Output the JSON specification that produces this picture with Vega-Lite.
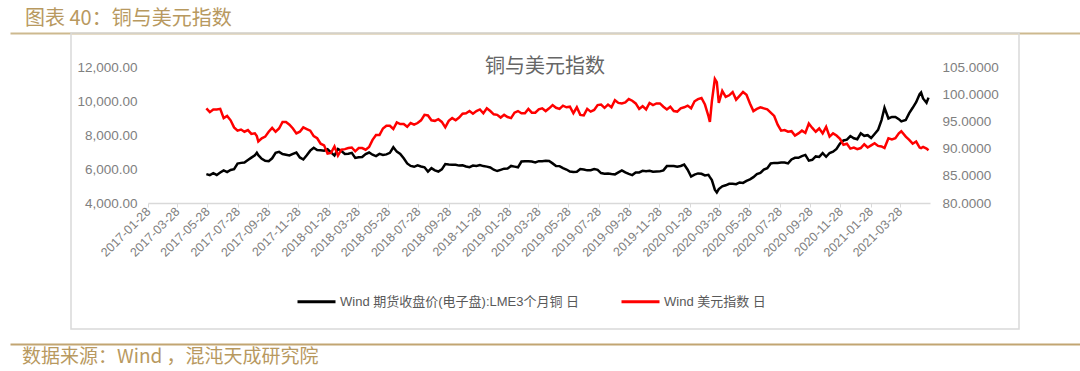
{
  "$schema": "https://vega.github.io/schema/vega-lite/v6.json",
  "background": "white",
  "padding": {"left": 10, "top": 0, "right": 0, "bottom": 0},
  "config": {"view": {"stroke": null}, "font": "Liberation Sans, Noto Sans CJK SC"},
  "datasets": {
    "series": [
      {"date":"2017-05-26","cu":5700,"usd":97.4},{"date":"2017-06-02","cu":5640,"usd":96.7},{"date":"2017-06-09","cu":5750,"usd":97.2},{"date":"2017-06-16","cu":5650,"usd":97.2},{"date":"2017-06-23","cu":5790,"usd":97.3},{"date":"2017-06-30","cu":5920,"usd":95.6},{"date":"2017-07-07","cu":5820,"usd":96.0},{"date":"2017-07-14","cu":5940,"usd":95.2},{"date":"2017-07-21","cu":5990,"usd":93.9},{"date":"2017-07-28","cu":6320,"usd":93.3},{"date":"2017-08-04","cu":6360,"usd":93.5},{"date":"2017-08-11","cu":6380,"usd":93.1},{"date":"2017-08-18","cu":6530,"usd":93.4},{"date":"2017-08-25","cu":6670,"usd":92.7},{"date":"2017-09-01","cu":6800,"usd":92.8},{"date":"2017-09-05","cu":6960,"usd":92.3},{"date":"2017-09-08","cu":6810,"usd":91.3},{"date":"2017-09-15","cu":6600,"usd":91.9},{"date":"2017-09-22","cu":6480,"usd":92.2},{"date":"2017-09-29","cu":6460,"usd":93.1},{"date":"2017-10-06","cu":6630,"usd":93.8},{"date":"2017-10-13","cu":6950,"usd":93.1},{"date":"2017-10-20","cu":7010,"usd":93.7},{"date":"2017-10-27","cu":6880,"usd":94.9},{"date":"2017-11-03","cu":6840,"usd":94.9},{"date":"2017-11-10","cu":6800,"usd":94.4},{"date":"2017-11-17","cu":6890,"usd":93.7},{"date":"2017-11-24","cu":6970,"usd":92.8},{"date":"2017-12-01","cu":6680,"usd":93.1},{"date":"2017-12-08","cu":6560,"usd":93.9},{"date":"2017-12-15","cu":6810,"usd":93.6},{"date":"2017-12-22","cu":7080,"usd":93.3},{"date":"2017-12-29","cu":7250,"usd":92.3},
      {"date":"2018-01-05","cu":7110,"usd":91.9},{"date":"2018-01-12","cu":7100,"usd":90.9},{"date":"2018-01-19","cu":7080,"usd":90.6},{"date":"2018-01-26","cu":7160,"usd":89.1},{"date":"2018-02-02","cu":6980,"usd":89.2},{"date":"2018-02-09","cu":6790,"usd":90.4},{"date":"2018-02-16","cu":7180,"usd":88.7},{"date":"2018-02-23","cu":7060,"usd":89.8},{"date":"2018-03-02","cu":6880,"usd":89.9},{"date":"2018-03-09","cu":6900,"usd":90.1},{"date":"2018-03-16","cu":6950,"usd":90.2},{"date":"2018-03-23","cu":6650,"usd":89.5},{"date":"2018-03-30","cu":6690,"usd":90.1},{"date":"2018-04-06","cu":6710,"usd":90.1},{"date":"2018-04-13","cu":6880,"usd":89.8},{"date":"2018-04-20","cu":6970,"usd":90.3},{"date":"2018-04-27","cu":6840,"usd":91.6},{"date":"2018-05-04","cu":6760,"usd":92.5},{"date":"2018-05-11","cu":6890,"usd":92.5},{"date":"2018-05-18","cu":6830,"usd":93.7},{"date":"2018-05-25","cu":6860,"usd":94.2},{"date":"2018-06-01","cu":6950,"usd":94.2},{"date":"2018-06-08","cu":7280,"usd":93.6},{"date":"2018-06-15","cu":7020,"usd":94.8},{"date":"2018-06-22","cu":6890,"usd":94.5},{"date":"2018-06-29","cu":6630,"usd":94.5},{"date":"2018-07-06","cu":6330,"usd":94.0},{"date":"2018-07-13","cu":6180,"usd":94.7},{"date":"2018-07-20","cu":6130,"usd":94.4},{"date":"2018-07-27","cu":6220,"usd":94.7},{"date":"2018-08-03","cu":6150,"usd":95.2},{"date":"2018-08-10","cu":6100,"usd":96.2},{"date":"2018-08-17","cu":5850,"usd":96.1},{"date":"2018-08-24","cu":6050,"usd":95.2},{"date":"2018-08-31","cu":5920,"usd":95.1},{"date":"2018-09-07","cu":5850,"usd":95.4},{"date":"2018-09-14","cu":5980,"usd":94.9},{"date":"2018-09-21","cu":6290,"usd":93.9},{"date":"2018-09-28","cu":6260,"usd":95.1},{"date":"2018-10-05","cu":6250,"usd":95.6},{"date":"2018-10-12","cu":6250,"usd":95.2},{"date":"2018-10-19","cu":6200,"usd":95.7},{"date":"2018-10-26","cu":6220,"usd":96.4},{"date":"2018-11-02","cu":6150,"usd":96.5},{"date":"2018-11-09","cu":6110,"usd":96.9},{"date":"2018-11-16","cu":6200,"usd":96.4},{"date":"2018-11-23","cu":6180,"usd":96.9},{"date":"2018-11-30","cu":6230,"usd":97.2},{"date":"2018-12-07","cu":6170,"usd":96.5},{"date":"2018-12-14","cu":6140,"usd":97.4},{"date":"2018-12-21","cu":6090,"usd":96.9},{"date":"2018-12-28","cu":5960,"usd":96.3},
      {"date":"2019-01-04","cu":5880,"usd":96.2},{"date":"2019-01-11","cu":5950,"usd":95.7},{"date":"2019-01-18","cu":6020,"usd":96.2},{"date":"2019-01-25","cu":6030,"usd":95.8},{"date":"2019-02-01","cu":6180,"usd":95.6},{"date":"2019-02-08","cu":6140,"usd":96.6},{"date":"2019-02-15","cu":6100,"usd":96.9},{"date":"2019-02-22","cu":6440,"usd":96.5},{"date":"2019-03-01","cu":6460,"usd":96.5},{"date":"2019-03-08","cu":6450,"usd":97.3},{"date":"2019-03-15","cu":6440,"usd":96.6},{"date":"2019-03-22","cu":6390,"usd":96.6},{"date":"2019-03-29","cu":6460,"usd":97.2},{"date":"2019-04-05","cu":6460,"usd":97.4},{"date":"2019-04-12","cu":6480,"usd":96.9},{"date":"2019-04-19","cu":6470,"usd":97.4},{"date":"2019-04-26","cu":6330,"usd":98.0},{"date":"2019-05-03","cu":6180,"usd":97.5},{"date":"2019-05-10","cu":6170,"usd":97.3},{"date":"2019-05-17","cu":6050,"usd":97.9},{"date":"2019-05-24","cu":5970,"usd":97.6},{"date":"2019-05-31","cu":5850,"usd":97.7},{"date":"2019-06-07","cu":5820,"usd":96.5},{"date":"2019-06-14","cu":5840,"usd":97.6},{"date":"2019-06-21","cu":6000,"usd":96.2},{"date":"2019-06-28","cu":5970,"usd":96.1},{"date":"2019-07-05","cu":5920,"usd":97.3},{"date":"2019-07-12","cu":5930,"usd":96.8},{"date":"2019-07-19","cu":6000,"usd":97.1},{"date":"2019-07-26","cu":5950,"usd":98.0},{"date":"2019-08-02","cu":5760,"usd":98.1},{"date":"2019-08-09","cu":5720,"usd":97.5},{"date":"2019-08-16","cu":5730,"usd":98.1},{"date":"2019-08-23","cu":5700,"usd":97.6},{"date":"2019-08-30","cu":5680,"usd":98.9},{"date":"2019-09-06","cu":5800,"usd":98.4},{"date":"2019-09-13","cu":5920,"usd":98.3},{"date":"2019-09-20","cu":5800,"usd":98.5},{"date":"2019-09-27","cu":5710,"usd":99.1},{"date":"2019-10-04","cu":5640,"usd":98.8},{"date":"2019-10-11","cu":5790,"usd":98.3},{"date":"2019-10-18","cu":5800,"usd":97.3},{"date":"2019-10-25","cu":5890,"usd":97.8},{"date":"2019-11-01","cu":5870,"usd":97.2},{"date":"2019-11-08","cu":5890,"usd":98.4},{"date":"2019-11-15","cu":5840,"usd":98.0},{"date":"2019-11-22","cu":5850,"usd":98.3},{"date":"2019-11-29","cu":5860,"usd":98.3},{"date":"2019-12-06","cu":5920,"usd":97.7},{"date":"2019-12-13","cu":6170,"usd":97.2},{"date":"2019-12-20","cu":6170,"usd":97.7},{"date":"2019-12-27","cu":6180,"usd":96.9},
      {"date":"2020-01-03","cu":6130,"usd":96.8},{"date":"2020-01-10","cu":6180,"usd":97.4},{"date":"2020-01-17","cu":6260,"usd":97.6},{"date":"2020-01-24","cu":5960,"usd":97.9},{"date":"2020-01-31","cu":5560,"usd":97.4},{"date":"2020-02-07","cu":5670,"usd":98.7},{"date":"2020-02-14","cu":5740,"usd":99.1},{"date":"2020-02-21","cu":5720,"usd":99.3},{"date":"2020-02-28","cu":5620,"usd":98.1},{"date":"2020-03-06","cu":5660,"usd":96.0},{"date":"2020-03-09","cu":5520,"usd":94.9},{"date":"2020-03-13","cu":5350,"usd":98.7},{"date":"2020-03-19","cu":4780,"usd":102.8},{"date":"2020-03-23","cu":4620,"usd":102.2},{"date":"2020-03-27","cu":4820,"usd":98.4},{"date":"2020-04-03","cu":4980,"usd":100.6},{"date":"2020-04-10","cu":5040,"usd":99.5},{"date":"2020-04-17","cu":5130,"usd":99.8},{"date":"2020-04-24","cu":5130,"usd":100.4},{"date":"2020-05-01","cu":5110,"usd":99.0},{"date":"2020-05-08","cu":5210,"usd":99.7},{"date":"2020-05-15","cu":5180,"usd":100.4},{"date":"2020-05-22","cu":5300,"usd":99.9},{"date":"2020-05-29","cu":5390,"usd":98.3},{"date":"2020-06-05","cu":5520,"usd":96.9},{"date":"2020-06-12","cu":5700,"usd":97.3},{"date":"2020-06-19","cu":5770,"usd":97.6},{"date":"2020-06-26","cu":5960,"usd":97.4},{"date":"2020-07-03","cu":6050,"usd":97.2},{"date":"2020-07-10","cu":6330,"usd":96.6},{"date":"2020-07-17","cu":6360,"usd":96.0},{"date":"2020-07-24","cu":6360,"usd":94.4},{"date":"2020-07-31","cu":6380,"usd":93.3},{"date":"2020-08-07","cu":6380,"usd":93.4},{"date":"2020-08-14","cu":6330,"usd":93.1},{"date":"2020-08-21","cu":6560,"usd":93.2},{"date":"2020-08-28","cu":6660,"usd":92.4},{"date":"2020-09-04","cu":6660,"usd":92.8},{"date":"2020-09-11","cu":6760,"usd":93.3},{"date":"2020-09-18","cu":6830,"usd":92.9},{"date":"2020-09-25","cu":6490,"usd":94.6},{"date":"2020-10-02","cu":6540,"usd":93.8},{"date":"2020-10-09","cu":6740,"usd":93.1},{"date":"2020-10-16","cu":6710,"usd":93.7},{"date":"2020-10-23","cu":6930,"usd":92.8},{"date":"2020-10-30","cu":6720,"usd":94.0},{"date":"2020-11-06","cu":6940,"usd":92.2},{"date":"2020-11-13","cu":7020,"usd":92.8},{"date":"2020-11-20","cu":7180,"usd":92.4},{"date":"2020-11-27","cu":7500,"usd":91.8},{"date":"2020-12-04","cu":7680,"usd":90.7},{"date":"2020-12-11","cu":7730,"usd":90.9},{"date":"2020-12-18","cu":7940,"usd":90.0},{"date":"2020-12-25","cu":7810,"usd":90.2},
      {"date":"2021-01-01","cu":7750,"usd":89.9},{"date":"2021-01-08","cu":8100,"usd":90.1},{"date":"2021-01-15","cu":7950,"usd":90.8},{"date":"2021-01-22","cu":7990,"usd":90.2},{"date":"2021-01-29","cu":7820,"usd":90.6},{"date":"2021-02-05","cu":8060,"usd":91.0},{"date":"2021-02-12","cu":8300,"usd":90.5},{"date":"2021-02-19","cu":8880,"usd":90.4},{"date":"2021-02-25","cu":9600,"usd":90.1},{"date":"2021-03-05","cu":8970,"usd":91.9},{"date":"2021-03-12","cu":9060,"usd":91.7},{"date":"2021-03-19","cu":9060,"usd":91.9},{"date":"2021-03-26","cu":8930,"usd":92.8},{"date":"2021-03-31","cu":8800,"usd":93.2},{"date":"2021-04-09","cu":8880,"usd":92.2},{"date":"2021-04-16","cu":9290,"usd":91.6},{"date":"2021-04-23","cu":9600,"usd":90.9},{"date":"2021-04-30","cu":9930,"usd":91.3},{"date":"2021-05-07","cu":10400,"usd":90.2},{"date":"2021-05-10","cu":10500,"usd":90.1},{"date":"2021-05-14","cu":10150,"usd":90.3},{"date":"2021-05-21","cu":9900,"usd":90.0},{"date":"2021-05-25","cu":10200,"usd":89.7}
    ]
  },
  "vconcat": [
    {
      "width": 1070,
      "height": 33,
      "data": {"values": [{"v": 0}, {"v": 1}]},
      "title": {"text": "图表 40：铜与美元指数", "orient": "top", "anchor": "start", "frame": "group", "offset": -45, "dx": 15, "baseline": "alphabetic", "font": "Noto Sans CJK SC", "fontSize": 20, "fontWeight": "normal", "color": "#B8995F"},
      "mark": {"type": "rule", "opacity": 0},
      "encoding": {"x": {"field": "v", "type": "quantitative", "axis": {"orient": "bottom", "domainColor": "#CDB98F", "domainWidth": 2, "labels": false, "ticks": false, "grid": false, "title": null}}}
    },
    {
      "width": 948,
      "height": 296,
      "view": {"stroke": "#D9D9D9", "strokeWidth": 1.5},
      "title": {"text": "铜与美元指数", "orient": "top", "anchor": "middle", "frame": "group", "offset": -60, "baseline": "alphabetic", "font": "Noto Sans CJK SC", "fontSize": 20, "fontWeight": "normal", "color": "#666666"},
      "data": {"name": "series"},
      "encoding": {
        "x": {"field": "date", "type": "temporal",
          "scale": {"type": "utc", "domain": [{"year": 2017, "month": 1, "date": 28, "utc": true}, {"year": 2021, "month": 5, "date": 28, "utc": true}], "range": [77, 859], "nice": false},
          "axis": {"orient": "bottom", "offset": -126, "format": "%Y-%m-%d", "labelAngle": -45, "labelAlign": "right", "labelBaseline": "middle", "labelPadding": 2, "labelFontSize": 12.5, "labelColor": "#808080", "labelOverlap": false, "labelFlush": false, "labelBound": false, "domainColor": "#D9D9D9", "domainWidth": 1.5, "tickColor": "#D9D9D9", "tickSize": 4, "grid": false, "title": null,
            "values": [
              {"year": 2017, "month": 1, "date": 28, "utc": true},{"year": 2017, "month": 3, "date": 28, "utc": true},{"year": 2017, "month": 5, "date": 28, "utc": true},{"year": 2017, "month": 7, "date": 28, "utc": true},{"year": 2017, "month": 9, "date": 28, "utc": true},{"year": 2017, "month": 11, "date": 28, "utc": true},
              {"year": 2018, "month": 1, "date": 28, "utc": true},{"year": 2018, "month": 3, "date": 28, "utc": true},{"year": 2018, "month": 5, "date": 28, "utc": true},{"year": 2018, "month": 7, "date": 28, "utc": true},{"year": 2018, "month": 9, "date": 28, "utc": true},{"year": 2018, "month": 11, "date": 28, "utc": true},
              {"year": 2019, "month": 1, "date": 28, "utc": true},{"year": 2019, "month": 3, "date": 28, "utc": true},{"year": 2019, "month": 5, "date": 28, "utc": true},{"year": 2019, "month": 7, "date": 28, "utc": true},{"year": 2019, "month": 9, "date": 28, "utc": true},{"year": 2019, "month": 11, "date": 28, "utc": true},
              {"year": 2020, "month": 1, "date": 28, "utc": true},{"year": 2020, "month": 3, "date": 28, "utc": true},{"year": 2020, "month": 5, "date": 28, "utc": true},{"year": 2020, "month": 7, "date": 28, "utc": true},{"year": 2020, "month": 9, "date": 28, "utc": true},{"year": 2020, "month": 11, "date": 28, "utc": true},
              {"year": 2021, "month": 1, "date": 28, "utc": true},{"year": 2021, "month": 3, "date": 28, "utc": true}
            ]}}
      },
      "layer": [
        {
          "mark": {"type": "line", "strokeWidth": 2.5},
          "encoding": {
            "y": {"field": "cu", "type": "quantitative",
              "scale": {"domain": [4000, 12000], "range": [170, 34], "nice": false, "zero": false},
              "axis": {"orient": "left", "offset": -77, "values": [4000, 6000, 8000, 10000, 12000], "format": ",.2f", "domain": false, "ticks": false, "grid": false, "labelPadding": 11, "labelFontSize": 13.5, "labelColor": "#808080", "title": null}},
            "color": {"datum": "Wind 期货收盘价(电子盘):LME3个月铜 日", "type": "nominal",
              "scale": {"domain": ["Wind 期货收盘价(电子盘):LME3个月铜 日", "Wind 美元指数 日"], "range": ["#000000", "#FF0000"]},
              "legend": {"orient": "none", "legendX": 286, "legendY": 281, "direction": "horizontal", "title": null, "symbolType": "stroke", "symbolSize": 1444, "symbolStrokeWidth": 3, "labelFont": "Liberation Sans, Noto Sans CJK SC", "labelFontSize": 13, "labelColor": "#595959", "labelOffset": 3, "columnPadding": 35, "labelLimit": 400}}
          }
        },
        {
          "mark": {"type": "line", "strokeWidth": 2.5},
          "encoding": {
            "y": {"field": "usd", "type": "quantitative",
              "scale": {"domain": [80, 105], "range": [170, 34], "nice": false, "zero": false},
              "axis": {"orient": "right", "offset": -89, "values": [80, 85, 90, 95, 100, 105], "format": ".4f", "domain": false, "ticks": false, "grid": false, "labelPadding": 12, "labelFontSize": 13.5, "labelColor": "#808080", "title": null}},
            "color": {"datum": "Wind 美元指数 日", "type": "nominal"}
          }
        }
      ],
      "resolve": {"scale": {"y": "independent"}}
    },
    {
      "width": 1070,
      "height": 42,
      "data": {"values": [{"v": 0}, {"v": 1}]},
      "title": {"text": "数据来源：Wind ，混沌天成研究院", "orient": "top", "anchor": "start", "frame": "group", "offset": -53, "dx": 12, "baseline": "alphabetic", "font": "Noto Sans CJK SC", "fontSize": 19, "fontWeight": "normal", "color": "#B8995F"},
      "mark": {"type": "rule", "opacity": 0},
      "encoding": {"x": {"field": "v", "type": "quantitative", "axis": {"orient": "top", "offset": -15, "domainColor": "#C2A572", "domainWidth": 2, "labels": false, "ticks": false, "grid": false, "title": null}}}
    }
  ],
  "spacing": 0,
  "center": true,
  "bounds": "flush"
}
